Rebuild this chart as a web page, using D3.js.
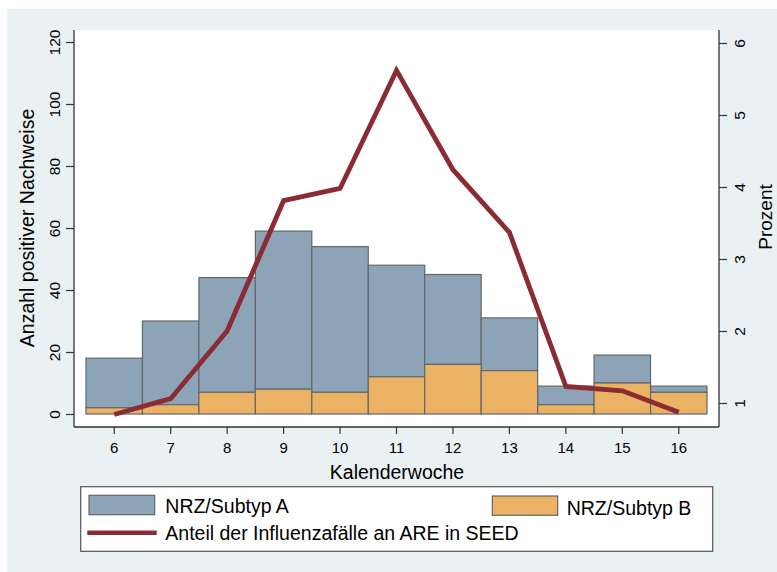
<!DOCTYPE html>
<html>
<head>
<meta charset="utf-8">
<script src="https://cdn.jsdelivr.net/npm/d3@7"></script>
<style>
  html, body { margin: 0; padding: 0; background: #ffffff; }
  svg { display: block; font-family: "Liberation Sans", Arial, Helvetica, sans-serif; }
</style>
</head>
<body>
<svg id="chart" width="777" height="572"></svg>
<script>
// ---- Data ----
const weeks = [6, 7, 8, 9, 10, 11, 12, 13, 14, 15, 16];
const subtypA = [16, 27, 37, 51, 47, 36, 29, 17, 6, 9, 2];
const subtypB = [2, 3, 7, 8, 7, 12, 16, 14, 3, 10, 7];
const anteilSeed = [0.84, 1.06, 2.0, 3.81, 3.98, 5.62, 4.24, 3.37, 1.23, 1.17, 0.87];
const leftTicks = [0, 20, 40, 60, 80, 100, 120];
const rightTicks = [1, 2, 3, 4, 5, 6];
const labelA = "NRZ/Subtyp A";
const labelB = "NRZ/Subtyp B";
const labelLine = "Anteil der Influenzafälle an ARE in SEED";

// ---- Styles ----
const colA = "#8da3b7", colB = "#ecb264", colLine = "#8b2c35";
const barStroke = "#62676b";
const axisCol = "#333333";

const svg = d3.select("#chart");

// Backgrounds
svg.append("rect").attr("x", 7).attr("y", 9).attr("width", 770).attr("height", 563).attr("fill", "#e9f1f3");
const plotL = 74, plotR = 719, plotT = 30, plotB = 427;
svg.append("rect").attr("x", plotL).attr("y", plotT).attr("width", plotR - plotL).attr("height", plotB - plotT).attr("fill", "#ffffff");

// Scales
const x = d3.scaleBand().domain(weeks).range([86, 707]).padding(0);
const yL = d3.scaleLinear().domain([0, 120]).range([414, 42]);
const yR = d3.scaleLinear().domain([1, 6]).range([403, 43]);

// Bars: B at bottom, A stacked on top
const rows = weeks.map((w, i) => ({ w, a: subtypA[i], b: subtypB[i] }));
const g = svg.append("g");
g.selectAll("rect.a").data(rows).join("rect").attr("class", "a")
  .attr("x", d => x(d.w)).attr("width", x.bandwidth())
  .attr("y", d => yL(d.a + d.b)).attr("height", d => yL(d.b) - yL(d.a + d.b))
  .attr("fill", colA).attr("stroke", barStroke).attr("stroke-width", 1.2);
g.selectAll("rect.b").data(rows).join("rect").attr("class", "b")
  .attr("x", d => x(d.w)).attr("width", x.bandwidth())
  .attr("y", d => yL(d.b)).attr("height", d => yL(0) - yL(d.b))
  .attr("fill", colB).attr("stroke", barStroke).attr("stroke-width", 1.2);

// Line
const line = d3.line().x((d, i) => x(weeks[i]) + x.bandwidth() / 2).y(d => yR(d));
svg.append("path").datum(anteilSeed).attr("d", line)
  .attr("fill", "none").attr("stroke", colLine).attr("stroke-width", 4.8)
  .attr("stroke-linejoin", "miter");

// Axis lines
const axisLines = svg.append("g").attr("stroke", axisCol).attr("stroke-width", 1.3);
axisLines.append("line").attr("x1", plotL).attr("x2", plotL).attr("y1", plotT).attr("y2", plotB);
axisLines.append("line").attr("x1", plotR).attr("x2", plotR).attr("y1", plotT).attr("y2", plotB);
axisLines.append("line").attr("x1", plotL).attr("x2", plotR).attr("y1", plotB).attr("y2", plotB);

// Left axis
const axL = svg.append("g").attr("transform", `translate(${plotL},0)`)
  .call(d3.axisLeft(yL).tickValues(leftTicks).tickSize(8).tickFormat(d3.format("d")));
axL.select(".domain").remove();
axL.selectAll(".tick line").attr("stroke", axisCol).attr("stroke-width", 1.2);
axL.selectAll(".tick text").attr("transform", "rotate(-90)").attr("x", 0).attr("y", -14).attr("dy", 0)
  .attr("text-anchor", "middle").attr("font-size", 15.5).attr("fill", "#000")
  .attr("font-family", "Liberation Sans, Arial, sans-serif");

// Right axis
const axR = svg.append("g").attr("transform", `translate(${plotR},0)`)
  .call(d3.axisRight(yR).tickValues(rightTicks).tickSize(8).tickFormat(d3.format("d")));
axR.select(".domain").remove();
axR.selectAll(".tick line").attr("stroke", axisCol).attr("stroke-width", 1.2);
axR.selectAll(".tick text").attr("transform", "rotate(-90)").attr("x", 0).attr("y", 26).attr("dy", 0)
  .attr("text-anchor", "middle").attr("font-size", 15.5).attr("fill", "#000")
  .attr("font-family", "Liberation Sans, Arial, sans-serif");

// Bottom axis
const axB = svg.append("g").attr("transform", `translate(0,${plotB})`)
  .call(d3.axisBottom(x).tickSize(7));
axB.select(".domain").remove();
axB.selectAll(".tick line").attr("stroke", axisCol).attr("stroke-width", 1.2);
axB.selectAll(".tick text").attr("y", 26).attr("dy", 0).attr("font-size", 15).attr("fill", "#000")
  .attr("font-family", "Liberation Sans, Arial, sans-serif");

// Axis titles
svg.append("text").attr("transform", "translate(34,228) rotate(-90)").attr("text-anchor", "middle")
  .attr("font-size", 19.5).attr("fill", "#000").text("Anzahl positiver Nachweise");
svg.append("text").attr("transform", "translate(772,217) rotate(-90)").attr("text-anchor", "middle")
  .attr("font-size", 19).attr("fill", "#000").text("Prozent");
svg.append("text").attr("x", 397).attr("y", 479).attr("text-anchor", "middle")
  .attr("font-size", 19.5).attr("fill", "#000").text("Kalenderwoche");

// Legend
const lg = svg.append("g");
lg.append("rect").attr("x", 80.7).attr("y", 486.7).attr("width", 632).attr("height", 64.6)
  .attr("fill", "#ffffff").attr("stroke", "#555").attr("stroke-width", 1.2);
lg.append("rect").attr("x", 89).attr("y", 495.3).attr("width", 65.7).attr("height", 19.4)
  .attr("fill", colA).attr("stroke", barStroke).attr("stroke-width", 1.2);
lg.append("text").attr("x", 165.3).attr("y", 512.7).attr("font-size", 19.5).attr("fill", "#000").text(labelA);
lg.append("rect").attr("x", 492.3).attr("y", 496).attr("width", 65.4).attr("height", 19.3)
  .attr("fill", colB).attr("stroke", barStroke).attr("stroke-width", 1.2);
lg.append("text").attr("x", 566.7).attr("y", 514.7).attr("font-size", 19.5).attr("fill", "#000").text(labelB);
lg.append("line").attr("x1", 87.3).attr("x2", 156.7).attr("y1", 532.7).attr("y2", 532.7)
  .attr("stroke", colLine).attr("stroke-width", 4.5);
lg.append("text").attr("x", 165.3).attr("y", 540.3).attr("font-size", 19.5).attr("fill", "#000").text(labelLine);
</script>
</body>
</html>
